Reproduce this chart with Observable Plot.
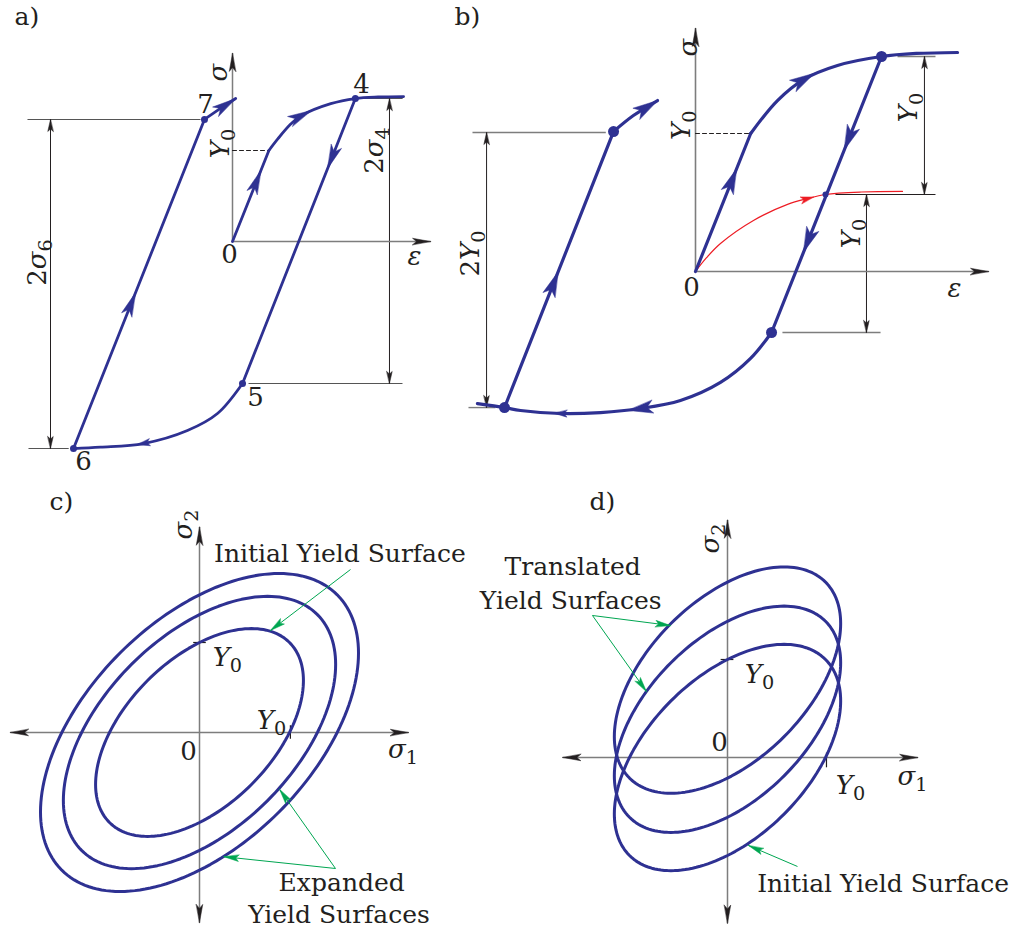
<!DOCTYPE html>
<html>
<head>
<meta charset="utf-8">
<script src="https://cdn.jsdelivr.net/npm/d3@7"></script>
<script src="https://cdn.jsdelivr.net/npm/@observablehq/plot@0.6"></script>
<style>
  body { margin: 0; background: #fff; }
  #fig { position: relative; width: 1016px; height: 932px; overflow: hidden; }
</style>
</head>
<body>
<div id="fig"></div>
<script>
// ---------------- panel a: cyclic loading, isotropic hardening (units of Y0) ----------------
const aElastic   = [[0, 0], [0.4, 1.0]];
const aHardening = [[0.4, 1.0], [0.5, 1.13], [0.64, 1.29], [0.75, 1.38], [1.08, 1.515], [1.35, 1.571], [1.6, 1.588], [1.88, 1.593]];
const aUnload    = [[1.35, 1.571], [0.11, -1.56]];
const aReverse   = [[0.11, -1.56], [-0.165, -1.89], [-0.495, -2.077], [-0.978, -2.22], [-1.45, -2.26], [-1.747, -2.275]];
const aReload    = [[-1.747, -2.275], [-0.308, 1.341]];
const aReyield   = [[-0.308, 1.341], [-0.132, 1.462], [0.035, 1.571]];
const aStateNames  = ["4", "5", "6", "7"];
const aStateStrain = [1.35, 0.11, -1.747, -0.308];
const aStateStress = [1.571, -1.56, -2.275, 1.341];
const aSigmaAxis = [[0, 0], [0, 2.066]];
const aEpsAxis   = [[0, 0], [2.176, 0]];
const aYieldMark = [[0, 1.0], [0.4, 1.0]];
const aExtLines  = [[[-2.253, 1.341], [-0.352, 1.341]], [[-2.242, -2.275], [-1.8, -2.275]], [[0.176, -1.56], [1.868, -1.56]], [[1.4, 1.571], [1.87, 1.571]]];
const aDims      = [[[-2.0, 1.341], [-2.0, -2.275]], [[1.725, 1.571], [1.725, -1.56]]];
const aLabels = [
  {t: "σ", x: -0.154, y: 1.857, r: -90},
  {t: "Y₀", x: -0.13, y: 1.077, r: -90},
  {t: "2σ₄", x: 1.56, y: 1.0, r: -90},
  {t: "2σ₆", x: -2.14, y: -0.23, r: -90},
  {t: "ε", x: 2.0, y: -0.165, r: 0},
  {t: "0", x: -0.033, y: -0.143, r: 0},
  {t: "4", x: 1.418, y: 1.725, r: 0},
  {t: "5", x: 0.253, y: -1.714, r: 0},
  {t: "6", x: -1.637, y: -2.418, r: 0},
  {t: "7", x: -0.297, y: 1.505, r: 0}
];

// ---------------- panel b: cyclic loading, kinematic hardening ----------------
const bElastic   = [[0, 0], [0.4, 1.0]];
const bHardening = [[0.4, 1.0], [0.594, 1.239], [0.783, 1.391], [1.029, 1.493], [1.348, 1.558], [1.6, 1.58], [1.899, 1.587]];
const bUnload    = [[1.348, 1.558], [0.551, -0.442]];
const bReverse   = [[0.551, -0.442], [0.399, -0.63], [0.181, -0.804], [-0.109, -0.935], [-0.399, -0.993], [-0.688, -1.022], [-0.978, -1.029], [-1.268, -1.007], [-1.384, -0.986], [-1.58, -0.957]];
const bReload    = [[-1.384, -0.986], [-0.594, 1.014]];
const bReyield   = [[-0.594, 1.014], [-0.45, 1.13], [-0.275, 1.239]];
const bMonotonic = [[0, 0], [0.08, 0.1], [0.181, 0.203], [0.42, 0.37], [0.667, 0.486], [0.81, 0.528], [0.942, 0.558], [1.2, 0.576], [1.5, 0.58]];
const bStateStrain = [1.348, 0.551, -1.384, -0.594];
const bStateStress = [1.558, -0.442, -0.986, 1.014];
const bCrossing  = [[0.942, 0.558]];
const bSigmaAxis = [[0, 0], [0, 1.761]];
const bEpsAxis   = [[0, 0], [2.123, 0]];
const bYieldMark = [[0, 1.0], [0.4, 1.0]];
const bExtGray   = [[[1.464, 1.558], [1.739, 1.558]], [[0.63, -0.442], [1.341, -0.442]], [[-1.616, 1.007], [-0.65, 1.007]], [[-1.645, -0.986], [-1.45, -0.986]]];
const bExtBlack  = [[[1.014, 0.558], [1.739, 0.558]]];
const bDims      = [[[1.659, 1.558], [1.659, 0.558]], [[1.239, 0.558], [1.239, -0.442]], [[-1.514, 1.007], [-1.514, -0.986]]];
const bLabels = [
  {t: "σ", x: -0.051, y: 1.623, r: -90},
  {t: "Y₀", x: -0.1, y: 1.06, r: -90},
  {t: "Y₀", x: 1.543, y: 1.188, r: -90},
  {t: "Y₀", x: 1.13, y: 0.275, r: -90},
  {t: "2Y₀", x: -1.63, y: 0.13, r: -90},
  {t: "0", x: -0.029, y: -0.116, r: 0},
  {t: "ε", x: 1.877, y: -0.123, r: 0}
];

// ---------------- panel c: isotropic hardening, von Mises yield surfaces ----------------
const cSurfaceSizes = [1, 1.31, 1.53];
const cSigma1Axis = [[-2.1, 0], [2.32, 0]];
const cSigma2Axis = [[0, -2.11], [0, 2.28]];
const cTicks = [[[-0.07, 1], [0.07, 1]], [[1.01, -0.07], [1.01, 0.08]]];
const cLabels = [
  {t: "0", x: -0.122, y: -0.211, r: 0},
  {t: "σ₁", x: 2.26, y: -0.19, r: 0},
  {t: "σ₂", x: -0.178, y: 2.31, r: -90},
  {t: "Y₀", x: 0.31, y: 0.83, r: 0},
  {t: "Y₀", x: 0.8, y: 0.13, r: 0}
];
const cNotes = [
  {t: "Initial Yield Surface", x: 1.56, y: 1.98},
  {t: "Expanded", x: 1.58, y: -1.67},
  {t: "Yield Surfaces", x: 1.55, y: -2.03}
];
const cPointers = [[[1.678, 1.811], [0.789, 1.133]], [[1.511, -1.511], [0.89, -0.633]], [[1.511, -1.511], [0.27, -1.38]]];

// ---------------- panel d: kinematic hardening, translated yield surfaces ----------------
const dSurfaceSize = 1;
const dSurfaceShifts = [0, 0.39, 0.79];
const dSigma1Axis = [[-1.68, 0], [1.94, 0]];
const dSigma2Axis = [[0, -1.69], [0, 2.42]];
const dTicks = [[[-0.07, 1], [0.06, 1]], [[1.01, -0.1], [1.01, 0.05]]];
const dLabels = [
  {t: "0", x: -0.082, y: 0.153, r: 0},
  {t: "σ₁", x: 1.888, y: -0.194, r: 0},
  {t: "σ₂", x: -0.173, y: 2.235, r: -90},
  {t: "Y₀", x: 0.327, y: 0.847, r: 0},
  {t: "Y₀", x: 1.255, y: -0.286, r: 0}
];
const dNotes = [
  {t: "Translated", x: -1.58, y: 1.94},
  {t: "Yield Surfaces", x: -1.6, y: 1.6},
  {t: "Initial Yield Surface", x: 1.587, y: -1.286}
];
const dPointers = [[[-1.378, 1.449], [-0.582, 1.347]], [[-1.378, 1.449], [-0.827, 0.673]], [[0.714, -1.112], [0.214, -0.898]]];

// ---------------- drawing helpers ----------------
const SERIF = "'DejaVu Serif', serif";
const BLUE = "#2e3192", RED = "#ed1c24", GREEN = "#00a651", AXIS = "#7d7d7d", INK = "#231f20";
const xy = {x: d => d[0], y: d => d[1]};
const seg = {x1: d => d[0][0], y1: d => d[0][1], x2: d => d[1][0], y2: d => d[1][1]};

// arrowhead shapes: [length, width, notch] in pixels
const HEAD_A = [24, 11, 6], HEAD_B = [25, 13, 6], HEAD_SMALL = [13, 7, 3];
const HEAD_AXIS = [18, 6.5, 4], HEAD_DIM = [12, 5.5, 2.5], HEAD_NOTE = [15, 6.5, 3];

// position and direction on a polyline; integer "at" = vertex, fractional = along a segment
function onCurve(pts, at) {
  const n = pts.length;
  if (Number.isInteger(at)) {
    const a = pts[Math.max(0, at - 1)], b = pts[Math.min(n - 1, at + 1)];
    return {p: pts[at], d: [b[0] - a[0], b[1] - a[1]]};
  }
  const i = Math.floor(at), t = at - i, a = pts[i], b = pts[i + 1];
  return {p: [a[0] + (b[0] - a[0]) * t, a[1] + (b[1] - a[1]) * t], d: [b[0] - a[0], b[1] - a[1]]};
}

// filled arrowhead polygon; tip at "tip", pointing along "dir"
function headPoly(tip, dir, k, [L, W, notch], id) {
  const len = Math.hypot(dir[0], dir[1]), ux = dir[0] / len, uy = dir[1] / len;
  const nx = -uy, ny = ux, l = L / k, w = W / 2 / k, nn = notch / k;
  return [
    {id, x: tip[0], y: tip[1]},
    {id, x: tip[0] - ux * l + nx * w, y: tip[1] - uy * l + ny * w},
    {id, x: tip[0] - ux * (l - nn), y: tip[1] - uy * (l - nn)},
    {id, x: tip[0] - ux * l - nx * w, y: tip[1] - uy * l - ny * w}
  ];
}

// arrowhead sitting in the middle of a curve (centred on the point)
function midHead(pts, at, size, k) {
  const {p, d} = onCurve(pts, at);
  const len = Math.hypot(d[0], d[1]), s = size[0] / 2 / k;
  return {tip: [p[0] + d[0] / len * s, p[1] + d[1] / len * s], dir: d, size};
}
// arrowhead at the end of a polyline
function endHead(pts, size) {
  const a = pts[pts.length - 2], b = pts[pts.length - 1];
  return {tip: b, dir: [b[0] - a[0], b[1] - a[1]], size};
}
function startHead(pts, size) {
  return endHead([pts[1], pts[0]], size);
}

function heads(list, k, color) {
  const poly = list.flatMap((h, i) => headPoly(h.tip, h.dir, k, h.size, i));
  return Plot.line(poly, {x: "x", y: "y", z: "id", curve: "linear-closed", fill: color, stroke: color, strokeWidth: 0.5});
}

function labels(list, size) {
  return [
    Plot.text(list.filter(d => d.r === 0), {x: "x", y: "y", text: "t", fontSize: size, fill: INK}),
    Plot.text(list.filter(d => d.r !== 0), {x: "x", y: "y", text: "t", rotate: -90, fontSize: size, fill: INK})
  ];
}

function panelLetter(s, dx, dy) {
  return Plot.text([s], {text: d => d, frameAnchor: "top-left", dx, dy, textAnchor: "start", lineAnchor: "top", fontSize: 25, fill: INK});
}

// von Mises ellipse in the (sigma1, sigma2) plane, size Y, centred at (c1, c2)
function vonMises(Y, c1, c2, id) {
  const pts = [];
  for (let i = 0; i < 180; i++) {
    const th = (2 * Math.PI * i) / 180;
    const a = Y * Math.SQRT2 * Math.cos(th), b = Y * Math.sqrt(2 / 3) * Math.sin(th);
    pts.push({id, x: c1 + (a - b) / Math.SQRT2, y: c2 + (a + b) / Math.SQRT2});
  }
  return pts;
}

// math labels: italic letters, real subscripts
function typeset(svg) {
  const sub = {"₀": "0", "₁": "1", "₂": "2", "₄": "4", "₆": "6"};
  svg.querySelectorAll("text").forEach(t => {
    const s = t.textContent;
    if (!/^[0-9]?[σεY][₀-₉]?$/.test(s)) return;
    t.textContent = "";
    for (const ch of s) {
      const ts = document.createElementNS("http://www.w3.org/2000/svg", "tspan");
      if (sub[ch]) {
        ts.textContent = sub[ch];
        ts.setAttribute("style", "font-size:0.74em");
        ts.setAttribute("dy", "0.32em");
      } else {
        ts.textContent = ch;
        if ("σεY".includes(ch)) ts.setAttribute("font-style", "italic");
      }
      t.append(ts);
    }
  });
}

const fig = document.getElementById("fig");
function panel({left, top, width, height, origin: [ox, oy], k, marks}) {
  const svg = Plot.plot({
    width, height, margin: 0,
    x: {domain: [(left - ox) / k, (left + width - ox) / k], axis: null},
    y: {domain: [(oy - top - height) / k, (oy - top) / k], axis: null},
    style: {background: "transparent", overflow: "visible", fontFamily: SERIF},
    marks
  });
  svg.style.position = "absolute";
  svg.style.left = left + "px";
  svg.style.top = top + "px";
  typeset(svg);
  fig.append(svg);
}

// ---------------- panel a ----------------
{
  const k = 91;
  panel({left: 0, top: 0, width: 440, height: 470, origin: [232, 241], k, marks: [
    Plot.link(aExtLines, {...seg, stroke: "#555", strokeWidth: 1.1}),
    Plot.link(aDims, {...seg, stroke: INK, strokeWidth: 1}),
    heads(aDims.flatMap(d => [endHead(d, HEAD_DIM), startHead(d, HEAD_DIM)]), k, INK),
    Plot.line(aSigmaAxis, {...xy, stroke: AXIS, strokeWidth: 1.5}),
    Plot.line(aEpsAxis, {...xy, stroke: AXIS, strokeWidth: 1.5}),
    heads([endHead(aSigmaAxis, HEAD_AXIS), endHead(aEpsAxis, HEAD_AXIS)], k, INK),
    Plot.line(aYieldMark, {...xy, stroke: INK, strokeWidth: 1, strokeDasharray: "4,3"}),
    Plot.line(aElastic, {...xy, stroke: BLUE, strokeWidth: 2.8}),
    Plot.line(aHardening, {...xy, stroke: BLUE, strokeWidth: 2.8, curve: "catmull-rom"}),
    Plot.line(aUnload, {...xy, stroke: BLUE, strokeWidth: 2.8}),
    Plot.line(aReverse, {...xy, stroke: BLUE, strokeWidth: 2.8, curve: "catmull-rom"}),
    Plot.line(aReload, {...xy, stroke: BLUE, strokeWidth: 2.8}),
    Plot.line(aReyield, {...xy, stroke: BLUE, strokeWidth: 2.8, curve: "catmull-rom"}),
    heads([
      midHead(aElastic, 0.66, HEAD_A, k),
      midHead(aHardening, 3, HEAD_A, k),
      midHead(aUnload, 0.207, HEAD_A, k),
      midHead(aReverse, 3, HEAD_SMALL, k),
      midHead(aReload, 0.44, HEAD_A, k),
      endHead(aReyield, HEAD_A)
    ], k, BLUE),
    Plot.dot(aStateNames, {x: (d, i) => aStateStrain[i], y: (d, i) => aStateStress[i], r: 3.5, fill: BLUE, stroke: null}),
    ...labels(aLabels, 26),
    panelLetter("a)", 14, 7)
  ]});
}

// ---------------- panel b ----------------
{
  const k = 138;
  panel({left: 440, top: 0, width: 576, height: 470, origin: [695, 271], k, marks: [
    Plot.link(bExtGray, {...seg, stroke: AXIS, strokeWidth: 1.4}),
    Plot.link(bExtBlack, {...seg, stroke: INK, strokeWidth: 1.1}),
    Plot.link(bDims, {...seg, stroke: INK, strokeWidth: 1}),
    heads(bDims.flatMap(d => [endHead(d, HEAD_DIM), startHead(d, HEAD_DIM)]), k, INK),
    Plot.line(bSigmaAxis, {...xy, stroke: AXIS, strokeWidth: 1.6}),
    Plot.line(bEpsAxis, {...xy, stroke: AXIS, strokeWidth: 1.6}),
    heads([endHead(bSigmaAxis, HEAD_AXIS), endHead(bEpsAxis, HEAD_AXIS)], k, INK),
    Plot.line(bYieldMark, {...xy, stroke: INK, strokeWidth: 1, strokeDasharray: "4,3"}),
    Plot.line(bMonotonic, {...xy, stroke: RED, strokeWidth: 1.2, curve: "catmull-rom"}),
    heads([midHead(bMonotonic, 5, HEAD_SMALL, k)], k, RED),
    Plot.line(bElastic, {...xy, stroke: BLUE, strokeWidth: 3.2}),
    Plot.line(bHardening, {...xy, stroke: BLUE, strokeWidth: 3.2, curve: "catmull-rom"}),
    Plot.line(bUnload, {...xy, stroke: BLUE, strokeWidth: 3.2}),
    Plot.line(bReverse, {...xy, stroke: BLUE, strokeWidth: 3.2, curve: "catmull-rom"}),
    Plot.line(bReload, {...xy, stroke: BLUE, strokeWidth: 3.2}),
    Plot.line(bReyield, {...xy, stroke: BLUE, strokeWidth: 3.2, curve: "catmull-rom"}),
    heads([
      midHead(bElastic, 0.66, HEAD_B, k),
      midHead(bHardening, 2, HEAD_B, k),
      midHead(bUnload, 0.297, HEAD_B, k),
      midHead(bUnload, 0.667, HEAD_B, k),
      midHead(bReverse, 4, HEAD_B, k),
      midHead(bReverse, 6, HEAD_SMALL, k),
      midHead(bReload, 0.45, HEAD_B, k),
      endHead(bReyield, HEAD_B)
    ], k, BLUE),
    Plot.dot(bStateStrain, {x: d => d, y: (d, i) => bStateStress[i], r: 5.5, fill: BLUE, stroke: null}),
    Plot.dot(bCrossing, {...xy, r: 3, fill: BLUE, stroke: null}),
    ...labels(bLabels, 26),
    panelLetter("b)", 14, 7)
  ]});
}

// ---------------- panel c ----------------
{
  const k = 90;
  panel({left: 0, top: 470, width: 475, height: 462, origin: [199, 732], k, marks: [
    Plot.line(cSigma1Axis, {...xy, stroke: AXIS, strokeWidth: 1.5}),
    Plot.line(cSigma2Axis, {...xy, stroke: AXIS, strokeWidth: 1.5}),
    heads([cSigma1Axis, cSigma2Axis].flatMap(a => [endHead(a, HEAD_AXIS), startHead(a, HEAD_AXIS)]), k, INK),
    Plot.link(cTicks, {...seg, stroke: INK, strokeWidth: 1.2}),
    Plot.line(cSurfaceSizes.flatMap((Y, i) => vonMises(Y, 0, 0, i)), {x: "x", y: "y", z: "id", curve: "linear-closed", stroke: BLUE, strokeWidth: 3}),
    Plot.link(cPointers, {...seg, stroke: GREEN, strokeWidth: 1}),
    heads(cPointers.map(p => endHead(p, HEAD_NOTE)), k, GREEN),
    ...labels(cLabels, 26),
    Plot.text(cNotes, {x: "x", y: "y", text: "t", fontSize: 25, fill: INK}),
    panelLetter("c)", 49, 22)
  ]});
}

// ---------------- panel d ----------------
{
  const k = 98;
  panel({left: 475, top: 470, width: 541, height: 462, origin: [727, 757], k, marks: [
    Plot.line(dSigma1Axis, {...xy, stroke: AXIS, strokeWidth: 1.5}),
    Plot.line(dSigma2Axis, {...xy, stroke: AXIS, strokeWidth: 1.5}),
    heads([dSigma1Axis, dSigma2Axis].flatMap(a => [endHead(a, HEAD_AXIS), startHead(a, HEAD_AXIS)]), k, INK),
    Plot.link(dTicks, {...seg, stroke: INK, strokeWidth: 1.2}),
    Plot.line(dSurfaceShifts.flatMap((c, i) => vonMises(dSurfaceSize, 0, c, i)), {x: "x", y: "y", z: "id", curve: "linear-closed", stroke: BLUE, strokeWidth: 3}),
    Plot.link(dPointers, {...seg, stroke: GREEN, strokeWidth: 1}),
    heads(dPointers.map(p => endHead(p, HEAD_NOTE)), k, GREEN),
    ...labels(dLabels, 26),
    Plot.text(dNotes, {x: "x", y: "y", text: "t", fontSize: 25, fill: INK}),
    panelLetter("d)", 114, 22)
  ]});
}
</script>
</body>
</html>
